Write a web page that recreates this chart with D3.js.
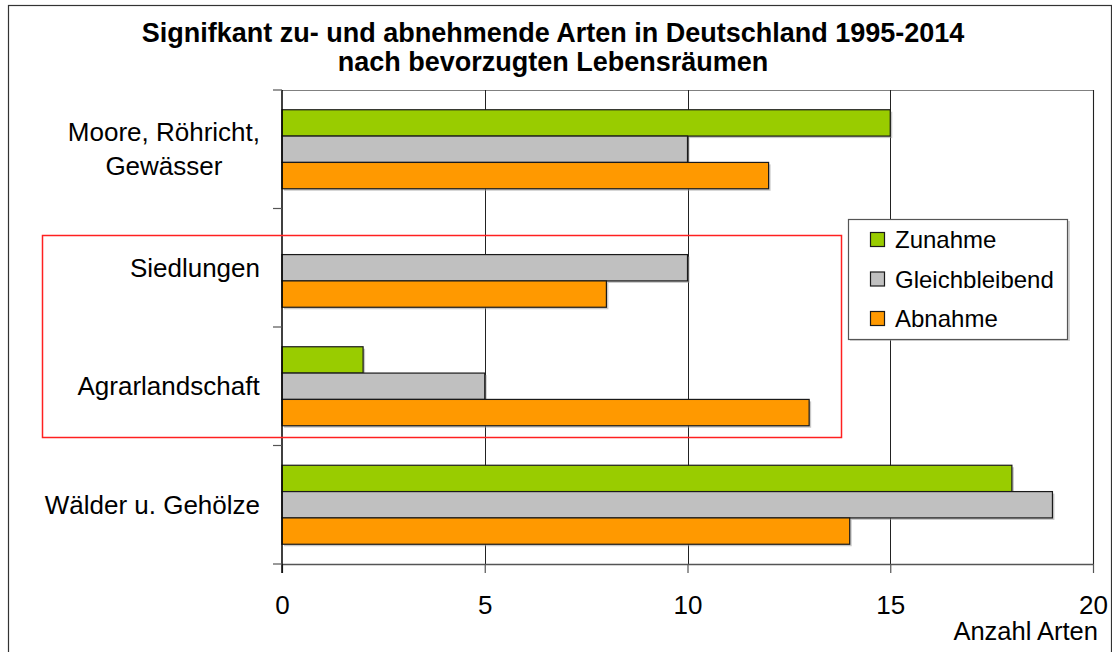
<!DOCTYPE html>
<html><head><meta charset="utf-8">
<script src="https://cdn.jsdelivr.net/npm/d3@7"></script>
<style>
html,body{margin:0;padding:0;background:#fff;}
svg{display:block;font-family:"Liberation Sans",Arial,sans-serif;}
</style></head>
<body>
<svg id="chart" width="1112" height="652"></svg>
<script>
const titleLines = ["Signifkant zu- und abnehmende Arten in Deutschland 1995-2014", "nach bevorzugten Lebensräumen"];
const categories = ["Moore, Röhricht,\nGewässer", "Siedlungen", "Agrarlandschaft", "Wälder u. Gehölze"];
const seriesNames = ["Zunahme", "Gleichbleibend", "Abnahme"];
const seriesColors = ["#99cc00", "#c0c0c0", "#ff9900"];
const zunahme = [15, 0, 2, 18];
const gleichbleibend = [10, 10, 5, 19];
const abnahme = [12, 8, 13, 14];
const xTicks = [0, 5, 10, 15, 20];
const xLabel = "Anzahl Arten";

const seriesValues = [zunahme, gleichbleibend, abnahme];
const svg = d3.select("#chart");

// outer border
svg.append("rect").attr("x", 8.5).attr("y", 5.5).attr("width", 1103).attr("height", 660)
  .attr("fill", "#fff").attr("stroke", "#333").attr("stroke-width", 1.2);

const x = d3.scaleLinear().domain([0, 20]).range([282, 1093]);
const y = d3.scaleBand().domain(categories).range([90, 564]).paddingInner(0).paddingOuter(0);
const ys = d3.scaleBand().domain(seriesNames).range([0, y.bandwidth()]).paddingInner(0).paddingOuter(0.75);

// plot area border (top / right)
svg.append("path")
  .attr("d", `M${x(0)},${y.range()[0]+0.5}H${x(20)+0.5}V${y.range()[1]}`)
  .attr("fill", "none").attr("stroke", "#808080").attr("stroke-width", 1.2);

// gridlines
svg.append("g").selectAll("line").data(xTicks.filter(d => d > 0)).join("line")
  .attr("x1", d => Math.round(x(d)) + 0.5).attr("x2", d => Math.round(x(d)) + 0.5)
  .attr("y1", y.range()[0]).attr("y2", y.range()[1])
  .attr("stroke", "#222").attr("stroke-width", 1);

// bars
const rows = [];
categories.forEach((c, i) => seriesNames.forEach((s, j) => rows.push({c, s, j, v: seriesValues[j][i]})));
const bars = svg.append("g");
bars.selectAll("rect.shadow").data(rows.filter(d => d.v > 0)).join("rect").attr("class", "shadow")
  .attr("x", x(0) + 2).attr("y", d => y(d.c) + ys(d.s) + 2)
  .attr("width", d => x(d.v) - x(0)).attr("height", ys.bandwidth())
  .attr("fill", "#9a9a9a").attr("opacity", 0.55);
bars.selectAll("rect.bar").data(rows.filter(d => d.v > 0)).join("rect").attr("class", "bar")
  .attr("x", x(0)).attr("y", d => y(d.c) + ys(d.s))
  .attr("width", d => x(d.v) - x(0)).attr("height", ys.bandwidth())
  .attr("fill", d => seriesColors[d.j]).attr("stroke", "#1a1a1a").attr("stroke-width", 1.2);

// x axis
const xAxis = d3.axisBottom(x).tickValues(xTicks).tickSize(9).tickSizeOuter(0).tickPadding(23);
const gx = svg.append("g").attr("transform", `translate(0,${y.range()[1]})`).call(xAxis);
gx.select(".domain").attr("stroke", "#555").attr("stroke-width", 1.5);
gx.selectAll(".tick line").attr("stroke", "#555").attr("stroke-width", 1.2);
gx.selectAll(".tick text").attr("font-size", 26).attr("fill", "#000")
  .attr("font-family", "Liberation Sans, Arial, sans-serif");

// y axis line and boundary ticks
const yb = categories.map(c => y(c)).concat([y.range()[1]]);
svg.append("line").attr("x1", x(0)).attr("x2", x(0)).attr("y1", y.range()[0]).attr("y2", y.range()[1] + 9)
  .attr("stroke", "#000").attr("stroke-width", 1.5);
svg.append("g").selectAll("line").data(yb).join("line")
  .attr("x1", x(0) - 9).attr("x2", x(0)).attr("y1", d => d).attr("y2", d => d)
  .attr("stroke", "#555").attr("stroke-width", 1.2);

// category labels
const lblG = svg.append("g");
categories.forEach(c => {
  const lines = c.split("\n");
  const cy = y(c) + y.bandwidth() / 2;
  const lh = 34;
  const t = lblG.append("text").attr("text-anchor", "middle").attr("font-size", 26).attr("fill", "#000");
  const textW = 0;
  lines.forEach((ln, k) => {
    t.append("tspan").attr("x", 0).attr("y", cy + 9 + (k - (lines.length - 1) / 2) * lh).text(ln);
  });
});
// right-align each block at x=260 (center each line inside block)
lblG.selectAll("text").each(function() {
  const bb = this.getBBox();
  d3.select(this).attr("transform", `translate(${260 - bb.width / 2},0)`);
});

// axis title
svg.append("text").attr("x", 1098).attr("y", 640).attr("text-anchor", "end")
  .attr("font-size", 25.5).attr("fill", "#000").text(xLabel);

// title
const tt = svg.append("text").attr("text-anchor", "middle").attr("font-size", 27)
  .attr("font-weight", "bold").attr("fill", "#000");
titleLines.forEach((ln, k) => tt.append("tspan").attr("x", 553).attr("y", 42 + k * 29).text(ln));

// red highlight rectangle
svg.append("rect").attr("x", 42.5).attr("y", 235.5).attr("width", 799).attr("height", 202)
  .attr("fill", "none").attr("stroke", "#ff2020").attr("stroke-width", 1.5);

// legend
const lg = svg.append("g");
lg.append("rect").attr("x", 850).attr("y", 221).attr("width", 220).attr("height", 120).attr("fill", "#aaa").attr("opacity", 0.5);
lg.append("rect").attr("x", 848.5).attr("y", 219.5).attr("width", 219).attr("height", 120)
  .attr("fill", "#fff").attr("stroke", "#555").attr("stroke-width", 1.2);
seriesNames.forEach((s, j) => {
  const by = 248 + j * 39.5;
  lg.append("rect").attr("x", 870.5).attr("y", by - 15.5).attr("width", 14).attr("height", 14)
    .attr("fill", seriesColors[j]).attr("stroke", "#1a1a1a").attr("stroke-width", 1.2);
  lg.append("text").attr("x", 895).attr("y", by).attr("font-size", 24).attr("fill", "#000").text(s);
});
</script>
</body></html>
